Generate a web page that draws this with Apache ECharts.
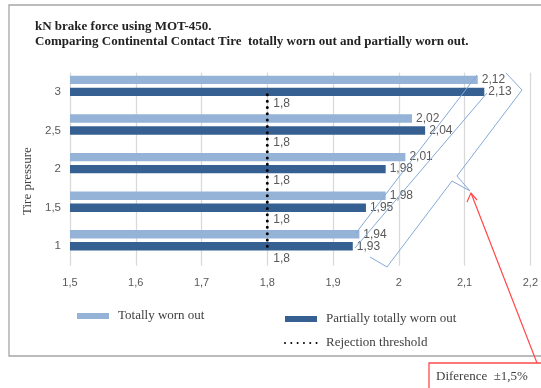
<!DOCTYPE html>
<html>
<head>
<meta charset="utf-8">
<script src="https://cdn.jsdelivr.net/npm/echarts@6/dist/echarts.min.js"></script>
<style>
  html, body { margin: 0; padding: 0; background: #ffffff; }
  #chart { width: 541px; height: 388px; }
</style>
</head>
<body>
<div id="chart"></div>
<script>
// Tire pressure categories (bottom to top) and brake force in kN
const pressures = ['1', '1,5', '2', '2,5', '3'];
const totallyWorn = [1.94, 1.98, 2.01, 2.02, 2.12];
const partiallyWorn = [1.93, 1.95, 1.98, 2.04, 2.13];
const threshold = [1.8, 1.8, 1.8, 1.8, 1.8];

const forceMin = 1.5;
const forceMax = 2.2;
const forceStep = 0.1;

const comma = v => String(Math.round(v * 100) / 100).replace('.', ',');

const sans = 'Liberation Sans';
const serif = 'Liberation Serif';
const labelGray = '#595959';
const textGray = '#404040';
const lightBlue = '#95B3D7';
const darkBlue = '#366092';
const braceBlue = '#86a9d8';
const red = '#ff4a4a';

const chart = echarts.init(document.getElementById('chart'), null, { renderer: 'canvas' });

chart.setOption({
  backgroundColor: '#ffffff',
  animation: false,
  title: {
    text: 'kN brake force using MOT-450.\nComparing Continental Contact Tire  totally worn out and partially worn out.',
    left: 35,
    top: 19,
    padding: 0,
    textStyle: { fontFamily: serif, fontWeight: 'bold', fontSize: 13, lineHeight: 15, color: '#222222' }
  },
  grid: { left: 70, top: 72.6, width: 464, height: 193, containLabel: false },
  xAxis: {
    type: 'value',
    min: forceMin,
    max: forceMax,
    interval: forceStep,
    axisLine: { show: false },
    axisTick: { show: false },
    splitLine: { show: true, lineStyle: { color: '#d9d9d9', width: 1.3 } },
    axisLabel: { formatter: v => comma(v), fontFamily: sans, fontSize: 11, color: labelGray, margin: 12 }
  },
  yAxis: {
    type: 'category',
    data: pressures,
    name: 'Tire pressure',
    nameLocation: 'middle',
    nameGap: 33,
    nameRotate: 90,
    nameTextStyle: { fontFamily: serif, fontSize: 13, color: textGray, padding: [0, 24, 0, 0] },
    axisLine: { show: false },
    axisTick: { show: false },
    splitLine: { show: false },
    axisLabel: { fontFamily: sans, fontSize: 11.5, color: labelGray, margin: 9 }
  },
  legend: [
    {
      data: ['Totally worn out'],
      left: 77, top: 308, padding: 0,
      itemWidth: 32, itemHeight: 6,
      icon: 'rect',
      selectedMode: false,
      textStyle: { fontFamily: serif, fontSize: 13, lineHeight: 16, color: textGray, padding: [0, 0, 0, 4] }
    },
    {
      data: [
        { name: 'Partially totally worn out', icon: 'rect' },
        { name: 'Rejection threshold', itemStyle: { opacity: 0 } }
      ],
      orient: 'vertical',
      left: 284, top: 311, padding: 0, itemGap: 8,
      itemWidth: 32, itemHeight: 6,
      selectedMode: false,
      textStyle: { fontFamily: serif, fontSize: 13, lineHeight: 16, color: textGray, padding: [0, 0, 0, 4] }
    }
  ],
  series: [
    {
      name: 'Totally worn out',
      type: 'bar',
      data: totallyWorn,
      barWidth: 8.4,
      barGap: '43%',
      z: 3,
      itemStyle: { color: lightBlue },
      label: { show: true, position: 'right', distance: 4, formatter: p => comma(p.value), fontFamily: sans, fontSize: 12, color: labelGray }
    },
    {
      name: 'Partially totally worn out',
      type: 'bar',
      data: partiallyWorn,
      barWidth: 8.4,
      barGap: '43%',
      z: 3,
      itemStyle: { color: darkBlue },
      label: { show: true, position: 'right', distance: 4, formatter: p => comma(p.value), fontFamily: sans, fontSize: 12, color: labelGray }
    },
    {
      name: 'Threshold value',
      type: 'bar',
      data: threshold,
      barWidth: 8.4,
      barGap: '43%',
      z: 3,
      itemStyle: { color: 'rgba(0,0,0,0)' },
      label: { show: true, position: 'right', distance: 6, formatter: p => comma(p.value), fontFamily: sans, fontSize: 12, color: labelGray }
    },
    {
      name: 'Rejection threshold',
      type: 'line',
      data: threshold,
      symbol: 'none',
      z: 4,
      itemStyle: { color: '#000000' },
      lineStyle: { color: '#000000', width: 3, type: [0.01, 6.3], cap: 'round' }
    }
  ],
  graphic: [
    // chart frame
    { type: 'rect', shape: { x: 9, y: 5, width: 560, height: 351 }, style: { fill: 'none', stroke: '#a6a6a6', lineWidth: 1.3 }, z: 0, silent: true },
    // spread band along the bar ends
    { type: 'line', shape: { x1: 477, y1: 75, x2: 356, y2: 233 }, style: { stroke: braceBlue, lineWidth: 1 }, z: 10, silent: true },
    { type: 'line', shape: { x1: 487, y1: 93, x2: 355, y2: 248 }, style: { stroke: braceBlue, lineWidth: 1 }, z: 10, silent: true },
    // brace
    { type: 'polyline', shape: { points: [[506, 73], [522, 90], [457, 176], [470, 191], [452, 181], [387, 267], [370, 257]] }, style: { fill: 'none', stroke: braceBlue, lineWidth: 1 }, z: 10, silent: true },
    // callout arrow
    { type: 'line', shape: { x1: 537, y1: 363, x2: 471, y2: 193 }, style: { stroke: red, lineWidth: 1.2 }, z: 10, silent: true },
    { type: 'polyline', shape: { points: [[467, 202], [471, 193], [477, 200]] }, style: { fill: 'none', stroke: red, lineWidth: 1.2 }, z: 10, silent: true },
    // callout box
    { type: 'rect', shape: { x: 429, y: 363, width: 130, height: 40 }, style: { fill: '#ffffff', stroke: red, lineWidth: 1.3 }, z: 10, silent: true },
    { type: 'text', x: 436, y: 377, style: { text: 'Diference  \u00b11,5%', font: '13px "Liberation Serif"', fill: textGray, verticalAlign: 'middle' }, z: 11, silent: true }
  ]
});
</script>
</body>
</html>
